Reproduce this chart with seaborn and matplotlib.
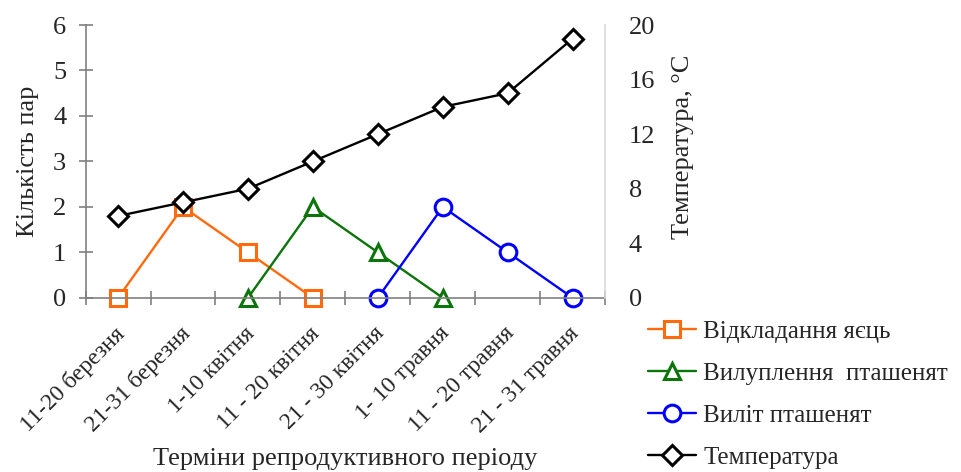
import numpy as np
import pandas as pd
import matplotlib
matplotlib.use("Agg")
import matplotlib.pyplot as plt
import seaborn as sns

periods = ["11-20 березня", "21-31 березня", "1-10 квітня", "11 - 20 квітня",
           "21 - 30 квітня", "1- 10 травня", "11 - 20 травня", "21 - 31 травня"]
egg_laying = [0, 2, 1, 0, None, None, None, None]
hatching = [None, None, 0, 2, 1, 0, None, None]
fledging = [None, None, None, None, 0, 2, 1, 0]
temperature = [6, 7, 8, 10, 12, 14, 15, 19]

left_ticks = [0, 1, 2, 3, 4, 5, 6]
right_ticks = [0, 4, 8, 12, 16, 20]

series_names = ["Відкладання яєць", "Вилуплення  пташенят", "Виліт пташенят"]

sns.set_theme(style="white")
plt.rcParams["font.family"] = ["Liberation Serif", "DejaVu Serif"]
plt.rcParams["font.size"] = 19

fig = plt.figure(figsize=(9.62, 4.72), dpi=100)
ax = fig.add_axes([0.089, 0.369, 0.540, 0.578])
ax2 = ax.twinx()

pos = np.arange(len(periods))
df = pd.DataFrame({
    "pos": pos,
    series_names[0]: egg_laying,
    series_names[1]: hatching,
    series_names[2]: fledging,
    "temp": temperature,
})

styles = [
    (series_names[0], "#FF6A0D", "s"),
    (series_names[1], "#0B740B", "^"),
    (series_names[2], "#0000FF", "o"),
]
handles = []
for name, color, mk in styles:
    sub = df[["pos", name]].dropna()
    sns.lineplot(data=sub, x="pos", y=name, ax=ax, color=color, marker=mk,
                 markersize=12, markerfacecolor="white", markeredgecolor=color,
                 markeredgewidth=2.2, linewidth=1.7, legend=False, clip_on=False)
    handles.append(ax.lines[-1])

sns.lineplot(data=df, x="pos", y="temp", ax=ax2, color="black", marker="D",
             markersize=10, markerfacecolor="white", markeredgecolor="black",
             markeredgewidth=2.2, linewidth=1.7, legend=False, clip_on=False)
handles.append(ax2.lines[-1])
labels = series_names + ["Температура"]

ax.set_xlim(-0.5, len(periods) - 0.5)
ax.set_ylim(0, 6)
ax2.set_ylim(0, 20)

# tick marks at category boundaries, labels under category centres
ax.set_xticks(np.arange(-0.5, len(periods)), minor=False)
ax.set_xticklabels([])
ax.set_xticks(pos - 0.06, minor=True)
ax.set_xticklabels(periods, minor=True, rotation=45, ha="right",
                   rotation_mode="anchor", fontsize=17)
ax.tick_params(axis="x", which="major", direction="inout", length=10,
               width=1.2, color="#808080", bottom=True)
ax.tick_params(axis="x", which="minor", length=0, pad=18, bottom=True)

ax.set_yticks(left_ticks)
ax.tick_params(axis="y", direction="inout", length=10, width=1.2,
               color="#808080", left=True, labelsize=19, pad=9)
ax2.set_yticks(right_ticks)
ax2.tick_params(axis="y", length=0, labelsize=19, pad=17, right=True)

for s in ["top", "right"]:
    ax.spines[s].set_visible(False)
for s in ["left", "bottom"]:
    ax.spines[s].set_color("#808080")
    ax.spines[s].set_linewidth(1.2)
for s in ["top", "left", "bottom"]:
    ax2.spines[s].set_visible(False)
ax2.spines["right"].set_color("#D9D9D9")
ax2.spines["right"].set_linewidth(1.2)

ax.set_xlabel("Терміни репродуктивного періоду", fontsize=19, labelpad=8)
ax.set_ylabel("Кількість пар", fontsize=19, labelpad=10)
ax2.set_ylabel("Температура, °C", fontsize=19)
ax2.yaxis.set_label_coords(1.128, 0.553)

fig.legend(handles, labels, loc="upper left", bbox_to_anchor=(0.674, 0.322),
           frameon=False, fontsize=18, handlelength=1.9, handletextpad=0.3,
           labelspacing=0.78, borderpad=0, borderaxespad=0)

fig.savefig("out.png", dpi=100, facecolor="white")
